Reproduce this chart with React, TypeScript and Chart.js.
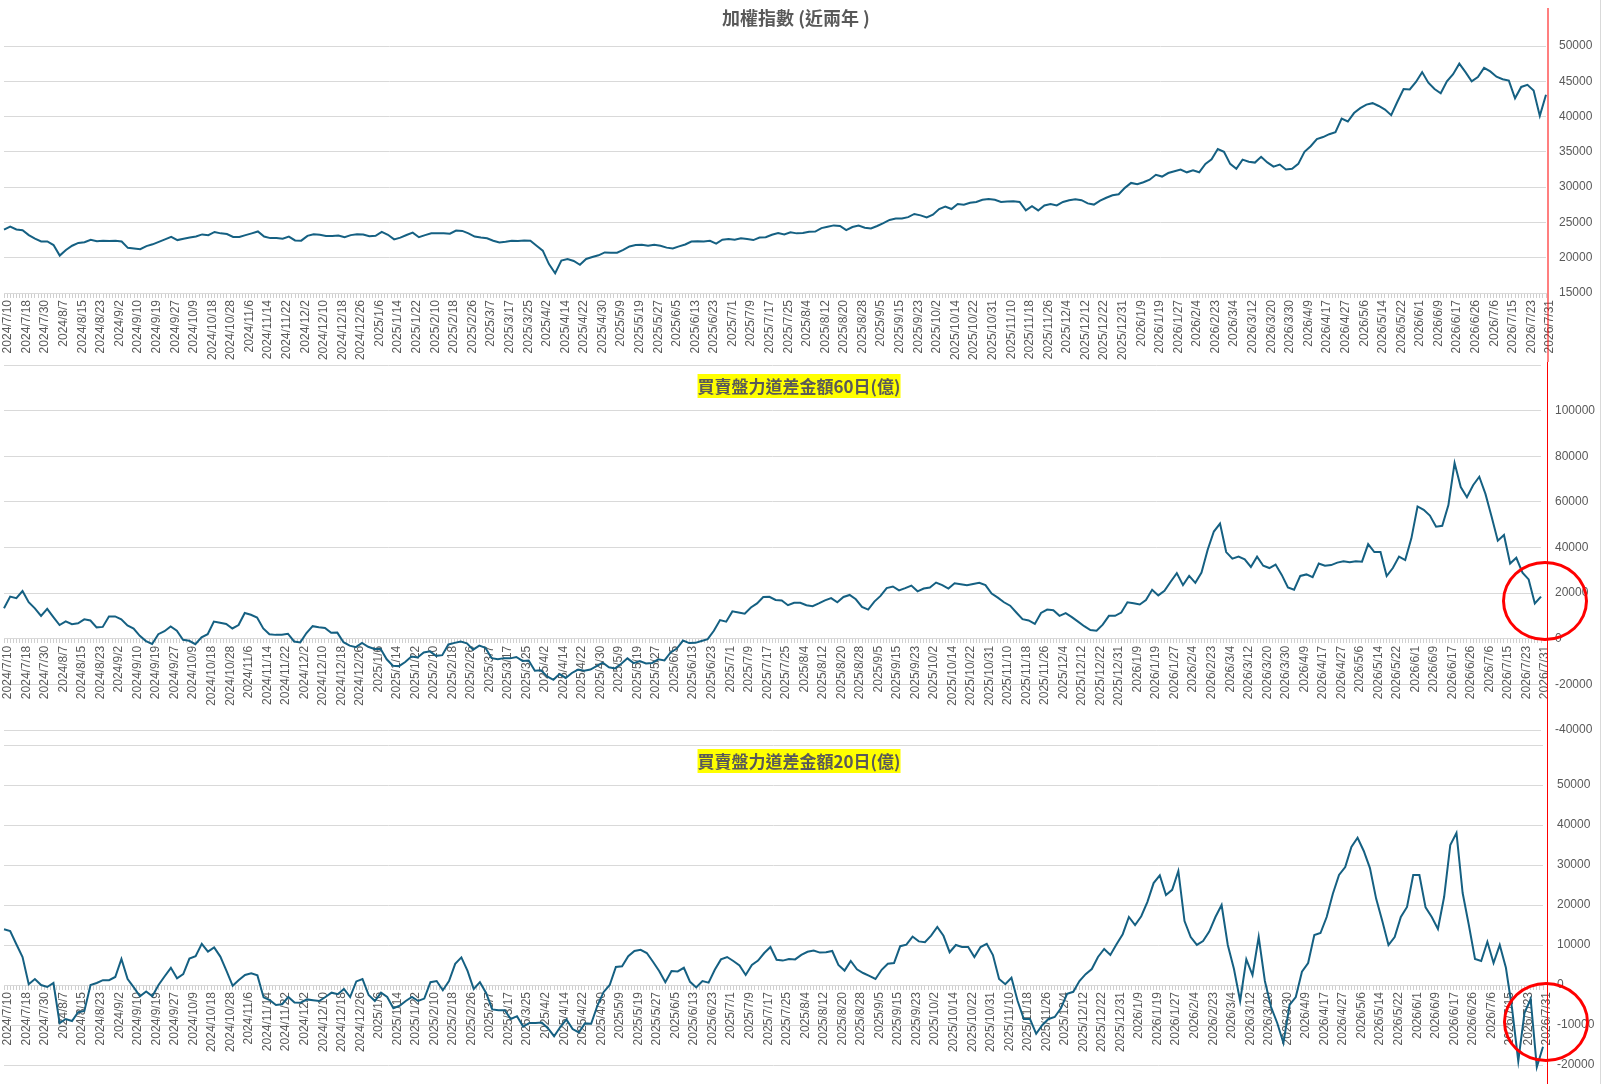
import React, { useEffect, useRef } from 'react';
import Chart from 'chart.js/auto';

// one label every 6 trading days, values sampled every 2 trading days
const tickLabels = [
  '2024/7/10', '2024/7/18', '2024/7/30', '2024/8/7', '2024/8/15', '2024/8/23', '2024/9/2', '2024/9/10', '2024/9/19', '2024/9/27',
  '2024/10/9', '2024/10/18', '2024/10/28', '2024/11/6', '2024/11/14', '2024/11/22', '2024/12/2', '2024/12/10', '2024/12/18', '2024/12/26',
  '2025/1/6', '2025/1/14', '2025/1/22', '2025/2/10', '2025/2/18', '2025/2/26', '2025/3/7', '2025/3/17', '2025/3/25', '2025/4/2',
  '2025/4/14', '2025/4/22', '2025/4/30', '2025/5/9', '2025/5/19', '2025/5/27', '2025/6/5', '2025/6/13', '2025/6/23', '2025/7/1',
  '2025/7/9', '2025/7/17', '2025/7/25', '2025/8/4', '2025/8/12', '2025/8/20', '2025/8/28', '2025/9/5', '2025/9/15', '2025/9/23',
  '2025/10/2', '2025/10/14', '2025/10/22', '2025/10/31', '2025/11/10', '2025/11/18', '2025/11/26', '2025/12/4', '2025/12/12', '2025/12/22',
  '2025/12/31', '2026/1/9', '2026/1/19', '2026/1/27', '2026/2/4', '2026/2/23', '2026/3/4', '2026/3/12', '2026/3/20', '2026/3/30',
  '2026/4/9', '2026/4/17', '2026/4/27', '2026/5/6', '2026/5/14', '2026/5/22', '2026/6/1', '2026/6/9', '2026/6/17', '2026/6/26',
  '2026/7/6', '2026/7/15', '2026/7/23', '2026/7/31',
];

const taiex = [
  23980, 24400, 24000, 23900, 23200, 22700, 22300, 22300, 21800, 20300, 21100, 21700,
  22100, 22200, 22550, 22330, 22400, 22380, 22400, 22300, 21400, 21300, 21200, 21650,
  21900, 22250, 22600, 22950, 22500, 22700, 22850, 23000, 23300, 23200, 23650, 23450,
  23350, 22950, 22950, 23200, 23450, 23720, 23000, 22780, 22800, 22700, 23000, 22450,
  22420, 23100, 23320, 23250, 23080, 23080, 23150, 22900, 23200, 23330, 23300, 23050,
  23100, 23650, 23250, 22600, 22850, 23220, 23550, 22900, 23200, 23450, 23460, 23450,
  23400, 23850, 23800, 23450, 23000, 22850, 22750, 22400, 22150, 22250, 22400, 22380,
  22440, 22400, 21700, 21000, 19100, 17800, 19600, 19800, 19540, 19000, 19820, 20100,
  20340, 20750, 20720, 20720, 21100, 21600, 21800, 21850, 21700, 21850, 21700, 21430,
  21300, 21600, 21880, 22300, 22350, 22300, 22400, 22000, 22550, 22650, 22550, 22750,
  22650, 22500, 22850, 22900, 23250, 23500, 23300, 23600, 23450, 23500, 23680, 23700,
  24200, 24400, 24580, 24500, 23900, 24350, 24550, 24250, 24150, 24500, 24900, 25350,
  25540, 25560, 25750, 26200, 26000, 25700, 26100, 26900, 27250, 26900, 27600, 27500,
  27780, 27900, 28200, 28330, 28200, 27900, 27950, 28000, 27900, 26700, 27300, 26700,
  27400, 27620, 27400, 27900, 28150, 28300, 28150, 27700, 27530, 28100, 28500, 28850,
  29000, 29900, 30600, 30420, 30700, 31050, 31750, 31500, 32000, 32250, 32500, 32100,
  32380, 32100, 33300, 33950, 35400, 35000, 33300, 32600, 33900, 33600, 33480, 34300,
  33500, 32900, 33200, 32500, 32600, 33300, 35000, 35800, 36800, 37100, 37500, 37800,
  39700, 39300, 40500, 41200, 41700, 41900, 41500, 41000, 40200, 42100, 43900, 43850,
  44900, 46300, 44800, 43900, 43300, 45000, 46000, 47500, 46300, 45000, 45600, 46900,
  46400, 45650, 45300, 45100, 42600, 44200, 44500, 43700, 40100, 43100,
];

const power60 = [
  13400, 18500, 17800, 20900, 16000, 13300, 10000, 13100, 9500, 6000, 7600, 6400,
  6800, 8500, 8000, 5000, 5200, 9800, 9800, 8500, 5800, 4500, 1300, -1000,
  -2300, 2000, 3300, 5400, 3500, -440, -900, -2400, 600, 2000, 7500, 7000,
  6500, 4500, 6000, 11300, 10500, 9300, 4520, 2000, 1700, 1800, 2200, -1200,
  -1600, 2500, 5500, 5000, 4700, 2600, 2700, -1500, -3000, -3700, -1800, -3500,
  -4500, -4400, -9000, -11800, -12000, -10200, -7800, -8200, -6000, -5540, -7500, -7200,
  -2500, -1800, -1200, -2000, -4800, -3000, -4000, -8500, -9000, -8500, -8600, -8000,
  -9700, -9500, -14000, -13800, -16500, -18000, -15500, -17190, -15000, -13500, -14000, -13500,
  -12000, -10500, -12500, -13000, -11000, -8600, -10700, -9800, -10800, -10600, -9000, -9500,
  -6000, -4300, -800, -1900, -1800, -1000, -200, 3500, 8200, 7500, 12000, 11500,
  11000, 13700, 15500, 18300, 18400, 17000, 16760, 14700, 15800, 15800, 14700, 14300,
  15500, 16800, 17800, 16000, 18300, 19200, 17300, 14000, 12800, 16300, 18800, 22200,
  22900, 21200, 22200, 23300, 20800, 22000, 22440, 24620, 23500, 22000, 24300, 23900,
  23500, 24000, 24500, 23500, 19800, 18000, 16000, 14500, 11500, 8600, 8000, 6500,
  11300, 12800, 12500, 10050, 11220, 9500, 7500, 5500, 3800, 3500, 6200, 10050,
  10050, 11500, 16000, 15590, 15000, 17000, 21500, 19000, 21000, 25000, 28800, 23500,
  27540, 24500, 29000, 39000, 47000, 50500, 38000, 35100, 36000, 34820, 31500, 36000,
  32000, 31000, 32500, 28000, 22500, 21500, 27540, 28200, 27000, 33000, 32000, 32300,
  33370, 34000, 33500, 34000, 33800, 41500, 38000, 38000, 27500, 31000, 36000, 34500,
  44000, 58000, 56500, 54000, 49100, 49500, 58570, 77000, 66500, 62000, 67310, 71000,
  63500, 53500, 43000, 45500, 33000, 35500, 29000, 26000, 15500, 18500,
];

const power20 = [
  13950, 13500, 10190, 7000, 200, 1500, 0, -500, 500, -9500, -8500, -9000,
  -6800, -6500, 0, 500, 1200, 1200, 2000, 6500, 1500, -600, -2800, -1600,
  -2800, 0, 2200, 4300, 1670, 2700, 6600, 7200, 10300, 8350, 9400, 7100,
  3510, -200, 1250, 2500, 2900, 2400, -3100, -3800, -5000, -4800, -3000, -4400,
  -4430, -3600, -3800, -4000, -3000, -1920, -2300, -1000, -3000, 900, 1500, -2500,
  -4000, -1900, -3000, -5800, -5200, -4000, -3000, -4000, -3400, 700, 1000, -1300,
  1000, 5300, 6900, 3510, -1000, 700, -2000, -6100, -6300, -6300, -8500, -7800,
  -10400, -9500, -9500, -9400, -10800, -12800, -10500, -8600, -11000, -11860, -9600, -9700,
  -5200, -1800, 0, 4500, 4700, 7200, 8500, 8800, 8000, 5800, 3500, 700,
  3500, 3400, 4300, 800, -600, 1000, 600, 3800, 6400, 7000, 6000, 4900,
  2500, 5000, 6100, 8000, 9500, 6300, 6100, 6500, 6400, 7520, 8300, 8600,
  8100, 8200, 8500, 5000, 3600, 6000, 3930, 3000, 2300, 1500, 3800, 5300,
  5500, 9700, 10100, 12110, 10900, 10700, 12360, 14500, 12300, 8200, 10000, 9500,
  9500, 7000, 9500, 10300, 7500, 1500, 200, 1800, -4000, -8500, -8500, -12200,
  -10000, -8500, -8000, -5800, -2200, -1700, 1000, 2700, 4000, 7000, 9000, 7500,
  10190, 12700, 17000, 15000, 17200, 20800, 25480, 27400, 22500, 23800, 28500, 16000,
  12000, 10020, 11000, 13370, 17000, 20000, 10000, 4000, -4000, 6430, 2500, 12000,
  1000, -5500, -9500, -14500, -5000, -3000, 3340, 5500, 12500, 13000, 17000, 22800,
  27500, 29500, 34500, 36800, 33500, 29240, 21600, 16000, 10000, 12000, 17000, 19500,
  27500, 27500, 19400, 17000, 14000, 22000, 35000, 38000, 23000, 15000, 6500, 6000,
  10800, 5500, 10020, 4300, -6000, -19000, -7000, -3500, -20500, -15450,
];

const DAYS_PER_TICK = 6;
const DAYS_PER_SAMPLE = 2;
const dayCount = (tickLabels.length - 1) * DAYS_PER_TICK + 1;
const dayLabels = Array.from({ length: dayCount }, (_, i) =>
  i % DAYS_PER_TICK === 0 ? tickLabels[i / DAYS_PER_TICK] : ''
);
const spread = (values: number[]) =>
  dayLabels.map((_, i) => (i % DAYS_PER_SAMPLE === 0 ? values[i / DAYS_PER_SAMPLE] ?? null : null));

const LINE = '#156082';
const GRID = '#d9d9d9';
const TEXT = '#595959';
const LATIN = '"Liberation Sans", Arial, sans-serif';
const CJK = '"Noto Sans CJK TC", "Liberation Sans", sans-serif';

interface LineChartProps {
  values: number[];
  min: number;
  max: number;
  step: number;
  axisAt: number;
  axisWidth: number;
  labelPad: number;
  padTop: number;
  padBottom: number;
  top: number;
  height: number;
  showTop: boolean;
}

const LineChart: React.FC<LineChartProps> = (p) => {
  const chartRef = useRef<HTMLCanvasElement | null>(null);

  useEffect(() => {
    if (!chartRef.current) return;
    const chart = new Chart(chartRef.current, {
      type: 'line',
      data: {
        labels: dayLabels,
        datasets: [
          {
            data: spread(p.values),
            borderColor: LINE,
            borderWidth: 2,
            pointRadius: 0,
            tension: 0,
            spanGaps: true,
            clip: false as any,
          },
        ],
      },
      options: {
        animation: false,
        responsive: true,
        maintainAspectRatio: false,
        layout: { padding: { left: 4, right: 0, top: p.padTop, bottom: p.padBottom } },
        plugins: { legend: { display: false }, tooltip: { enabled: false } },
        scales: {
          x: {
            type: 'category',
            position: { y: p.axisAt } as any,
            grid: { drawOnChartArea: false, drawTicks: true, tickLength: 4, color: '#cfcfcf' },
            border: { display: true, color: GRID },
            ticks: {
              autoSkip: false,
              minRotation: 90,
              maxRotation: 90,
              padding: 3,
              labelOffset: 4,
              color: TEXT,
              font: { family: LATIN, size: 12 },
            },
          },
          y: {
            position: 'right',
            min: p.min,
            max: p.max,
            grid: { color: GRID, drawTicks: false },
            border: { display: false },
            ticks: {
              stepSize: p.step,
              padding: p.labelPad,
              color: TEXT,
              font: { family: LATIN, size: 12 },
              callback: (v: any) => (v === p.max && !p.showTop ? '' : String(v)),
            },
            afterFit: (scale: any) => {
              scale.width = p.axisWidth;
            },
          },
        },
      },
    });
    return () => {
      chart.destroy();
    };
  }, [p]);

  return (
    <div style={{ position: 'absolute', left: 0, top: p.top, width: 1603, height: p.height }}>
      <canvas ref={chartRef} />
    </div>
  );
};

const titleStyle: React.CSSProperties = {
  position: 'absolute',
  transform: 'translateX(-50%)',
  whiteSpace: 'nowrap',
  color: TEXT,
  fontFamily: CJK,
  fontWeight: 'bold',
};

const ring = (left: number, top: number): React.CSSProperties => ({
  position: 'absolute',
  left,
  top,
  width: 86,
  height: 80,
  boxSizing: 'border-box',
  border: '3px solid #ff0000',
  borderRadius: '50%',
});

const App: React.FC = () => {
  return (
    <div style={{ position: 'absolute', left: 0, top: 0, width: 1603, height: 1084, overflow: 'hidden', background: '#fff' }}>
      <LineChart values={taiex} min={15000} max={50000} step={5000} axisAt={15000} axisWidth={57} labelPad={13}
        padTop={46} padBottom={77} top={0} height={370} showTop={true} />
      <LineChart values={power60} min={-40000} max={120000} step={20000} axisAt={0} axisWidth={62} labelPad={14}
        padTop={24} padBottom={24} top={341} height={413} showTop={false} />
      <LineChart values={power20} min={-20000} max={60000} step={10000} axisAt={0} axisWidth={60} labelPad={14}
        padTop={24} padBottom={24} top={721} height={368} showTop={false} />

      <div style={{ ...titleStyle, left: 796, top: 5, fontSize: 18, lineHeight: '24px' }}>加權指數 (近兩年 )</div>
      <div style={{ ...titleStyle, left: 799, top: 374, fontSize: 17, lineHeight: '24px', background: '#ffff00' }}>
        買賣盤力道差金額60日(億)
      </div>
      <div style={{ ...titleStyle, left: 799, top: 749, fontSize: 17, lineHeight: '24px', background: '#ffff00' }}>
        買賣盤力道差金額20日(億)
      </div>

      <div style={{ position: 'absolute', left: 1600, top: 0, width: 1, height: 1084, background: GRID }} />
      <div style={{ position: 'absolute', left: 1547, top: 8, width: 2, height: 354, background: 'rgba(255,0,0,0.5)' }} />
      <div style={{ position: 'absolute', left: 1547, top: 362, width: 1, height: 722, background: '#ff0000' }} />
      <div style={ring(1502, 561)} />
      <div style={ring(1503, 982)} />
    </div>
  );
};

export default App;
